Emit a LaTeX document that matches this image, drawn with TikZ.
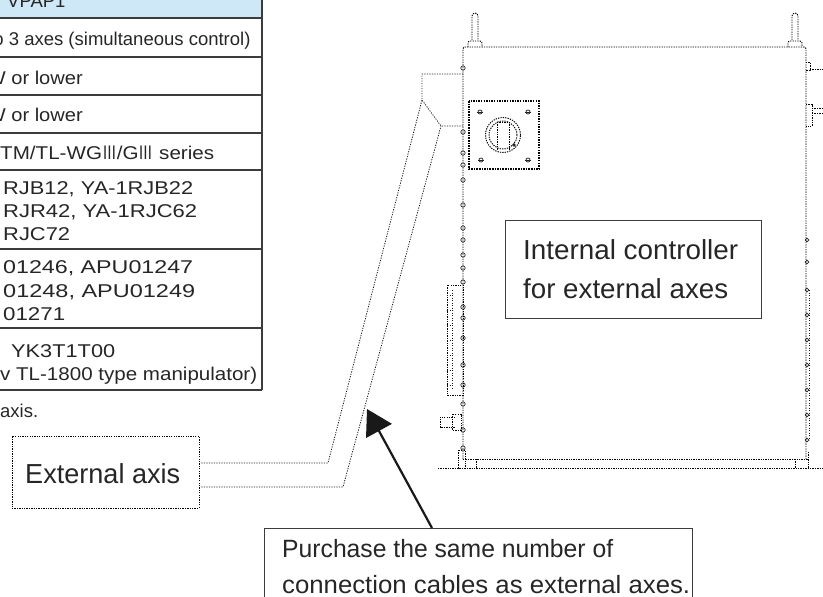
\documentclass[tikz,border=0pt]{standalone}
\usepackage{fontspec}
\setmainfont{Liberation Sans}
\newfontfamily\cjkfont{Noto Sans CJK JP}
\usetikzlibrary{arrows.meta}
\newcommand{\fitw}[2]{\resizebox{#1}{\height}{#2}}
\newcommand{\rmthree}{\scalebox{0.72}[1]{\cjkfont Ⅲ}}
\definecolor{txt}{HTML}{262626}
\definecolor{hdr}{HTML}{CFE8F8}
\definecolor{rulec}{HTML}{3C3C3C}
\begin{document}
\begin{tikzpicture}[x=1pt,y=-1pt,
  tbl/.style={font=\fontsize{18.5}{22}\selectfont, text=txt, inner sep=0pt, anchor=base west},
  big/.style={font=\fontsize{27.5}{33}\selectfont, text=txt, inner sep=0pt, anchor=base west},
  mid/.style={font=\fontsize{25}{30}\selectfont, text=txt, inner sep=0pt, anchor=base west},
  dot/.style={line width=0.95pt, dash pattern=on 1.3pt off 1.1pt, draw=black},
  fine/.style={line width=0.8pt, dash pattern=on 1.2pt off 1.3pt, draw=black!90},
  rowline/.style={draw=rulec, line width=1.1pt},
  solidbox/.style={draw=rulec, line width=1pt, inner sep=0pt},
  screw/.style={draw=black!85, line width=0.7pt}
]
\useasboundingbox (0,0) rectangle (823,597);
\clip (0,0) rectangle (823,597);

% ---------- table ----------
\fill[hdr] (0,0) rectangle (262,18);
\foreach \yy in {18,57,95,133,170,249,328,390}
  \draw[rowline] (0,\yy) -- (262,\yy);
\draw[rowline] (262,0) -- (262,390);

\node[tbl] (t1) at (7,7) {VPAP1};
\node[tbl, anchor=base east] (t2) at (250.7,45.5) {to 3 axes (simultaneous control)};
\node[tbl, anchor=base east] (t3) at (83,84) {\fitw{96pt}{W or lower}};
\node[tbl, anchor=base east] (t4) at (83,121) {\fitw{96pt}{W or lower}};
\node[tbl] (t5) at (0,159) {\fitw{214pt}{TM/TL-WG\rmthree/G\rmthree{} series}};
\node[tbl] (t6) at (3,194) {\fitw{190pt}{RJB12, YA-1RJB22}};
\node[tbl] (t7) at (3,217) {\fitw{194pt}{RJR42, YA-1RJC62}};
\node[tbl] (t8) at (3,240) {\fitw{67pt}{RJC72}};
\node[tbl] (t9) at (3,273) {\fitw{190pt}{01246, APU01247}};
\node[tbl] (t10) at (3,297) {\fitw{192pt}{01248, APU01249}};
\node[tbl] (t11) at (3,320) {\fitw{62pt}{01271}};
\node[tbl] (t12) at (11,357) {\fitw{104pt}{YK3T1T00}};
\node[tbl] (t13) at (0,380) {\fitw{257pt}{v TL-1800 type manipulator)}};
\node[tbl] (t14) at (0,417) {axis.};

% ---------- cabinet ----------
\draw[dot, rounded corners=2] (463,459) -- (463,47) -- (806,47) -- (806,459);
\foreach \xx in {475,795}{
  \draw[dot, rounded corners=3] (\xx-3,40) -- (\xx-3,13) -- (\xx+3,13) -- (\xx+3,40);
  \draw[dot, rounded corners=2] (\xx-7,47) -- (\xx-7,41) -- (\xx+7,41) -- (\xx+7,47);
}
% connector panel
\draw[line width=1.1pt, dash pattern=on 1.5pt off 1.1pt, draw=black] (469,101) rectangle (539,169);
\draw[dot] (503,135) circle[radius=17.5pt];
\draw[dot] (503,135) circle[radius=14pt];
\draw[dot] (497,122) -- (497,150);
\draw[dot] (509,122) -- (509,150);
\draw[dot] (497,122) -- (509,122);
\fill[black!85] (514,145) circle[radius=1.8pt];
\foreach \p in {(480,112),(528,112),(481,160),(528,160)}{
  \draw[screw] \p circle[radius=2pt];
  \draw[screw] \p ++(-3,0) -- ++(6,0);
}
% left edge hinges
\foreach \yy in {68,132,153,165,180,205,228,240,255,268,282,307,318,338,365,385,404,430,448}
  \draw[screw] (463,\yy) circle[radius=2.2pt];
\draw[dot] (447,285) rectangle (463,395);
\draw[fine] (452,290) -- (452,390);
\foreach \yy in {295,310,325,340,355,370,385}
  \draw[fine] (447,\yy) -- (452,\yy);
\draw[dot] (455,417) -- (440,417) -- (440,427) -- (455,427);
\draw[dot] (452,414) rectangle (461,430);
% right edge details
\draw[dot] (806,62) -- (810,62) -- (810,70) -- (806,70);
\draw[dot] (810,69) -- (823,69);
\draw[dot] (806,104) -- (812,104) -- (812,126) -- (806,126);
\draw[dot] (812,108) -- (823,108);
\draw[dot] (812,113) -- (823,113);
\draw[fine] (809,290) -- (809,440);
\foreach \yy in {240,262,290,315,340,365,390,415,440}
  \draw[screw] (807,\yy) circle[radius=1.8pt];
% base
\draw[dot] (463,459) -- (808,459);
\draw[dot] (438,468) -- (823,468);
\draw[dot] (476,459) -- (476,468);
\draw[dot] (795,459) -- (795,468);
\draw[dot] (808,452) -- (808,468);
\draw[dot] (458,450) rectangle (465,468);

% internal controller label
\node[solidbox, minimum width=256pt, minimum height=98pt] (ctl) at (633,269) {};
\node[big] (c1) at (523,259) {\fitw{215pt}{Internal controller}};
\node[big] (c2) at (523,298) {\fitw{205pt}{for external axes}};

% ---------- external axis + cables ----------
\node[dot, draw, minimum width=187pt, minimum height=72pt, inner sep=0pt] (ext) at (105.5,472) {};
\node[big] (e1) at (25,483) {\fitw{155pt}{External axis}};
\coordinate (d1) at (422,100);
\coordinate (d2) at (441,126);
\coordinate (ca) at (328,463);
\coordinate (cb) at (343,487);
\coordinate (ct) at (463,74);
\coordinate (cu) at (463,126);
\draw[fine] (ct) -- (422,74) -- (d1) -- (d2) -- (cu);
\draw[fine] ([xshift=2pt]ext.east |- ca) -- (ca) -- (d1);
\draw[fine] ([xshift=2pt]ext.east |- cb) -- (cb) -- (d2);

% ---------- purchase note ----------
\node[solidbox, minimum width=428pt, minimum height=120pt, anchor=north west] (pur) at (264,528) {};
\node[mid] (p1) at (282,557) {\fitw{331pt}{Purchase the same number of}};
\node[mid] (p2) at (282,593) {\fitw{408pt}{connection cables as external axes.}};
\coordinate (atip) at (367,409);
\draw[line width=2.2pt, draw=black!90, -{Triangle[length=25pt,width=29pt]}] ([xshift=168pt]pur.north west) -- (atip);
\end{tikzpicture}
\end{document}
